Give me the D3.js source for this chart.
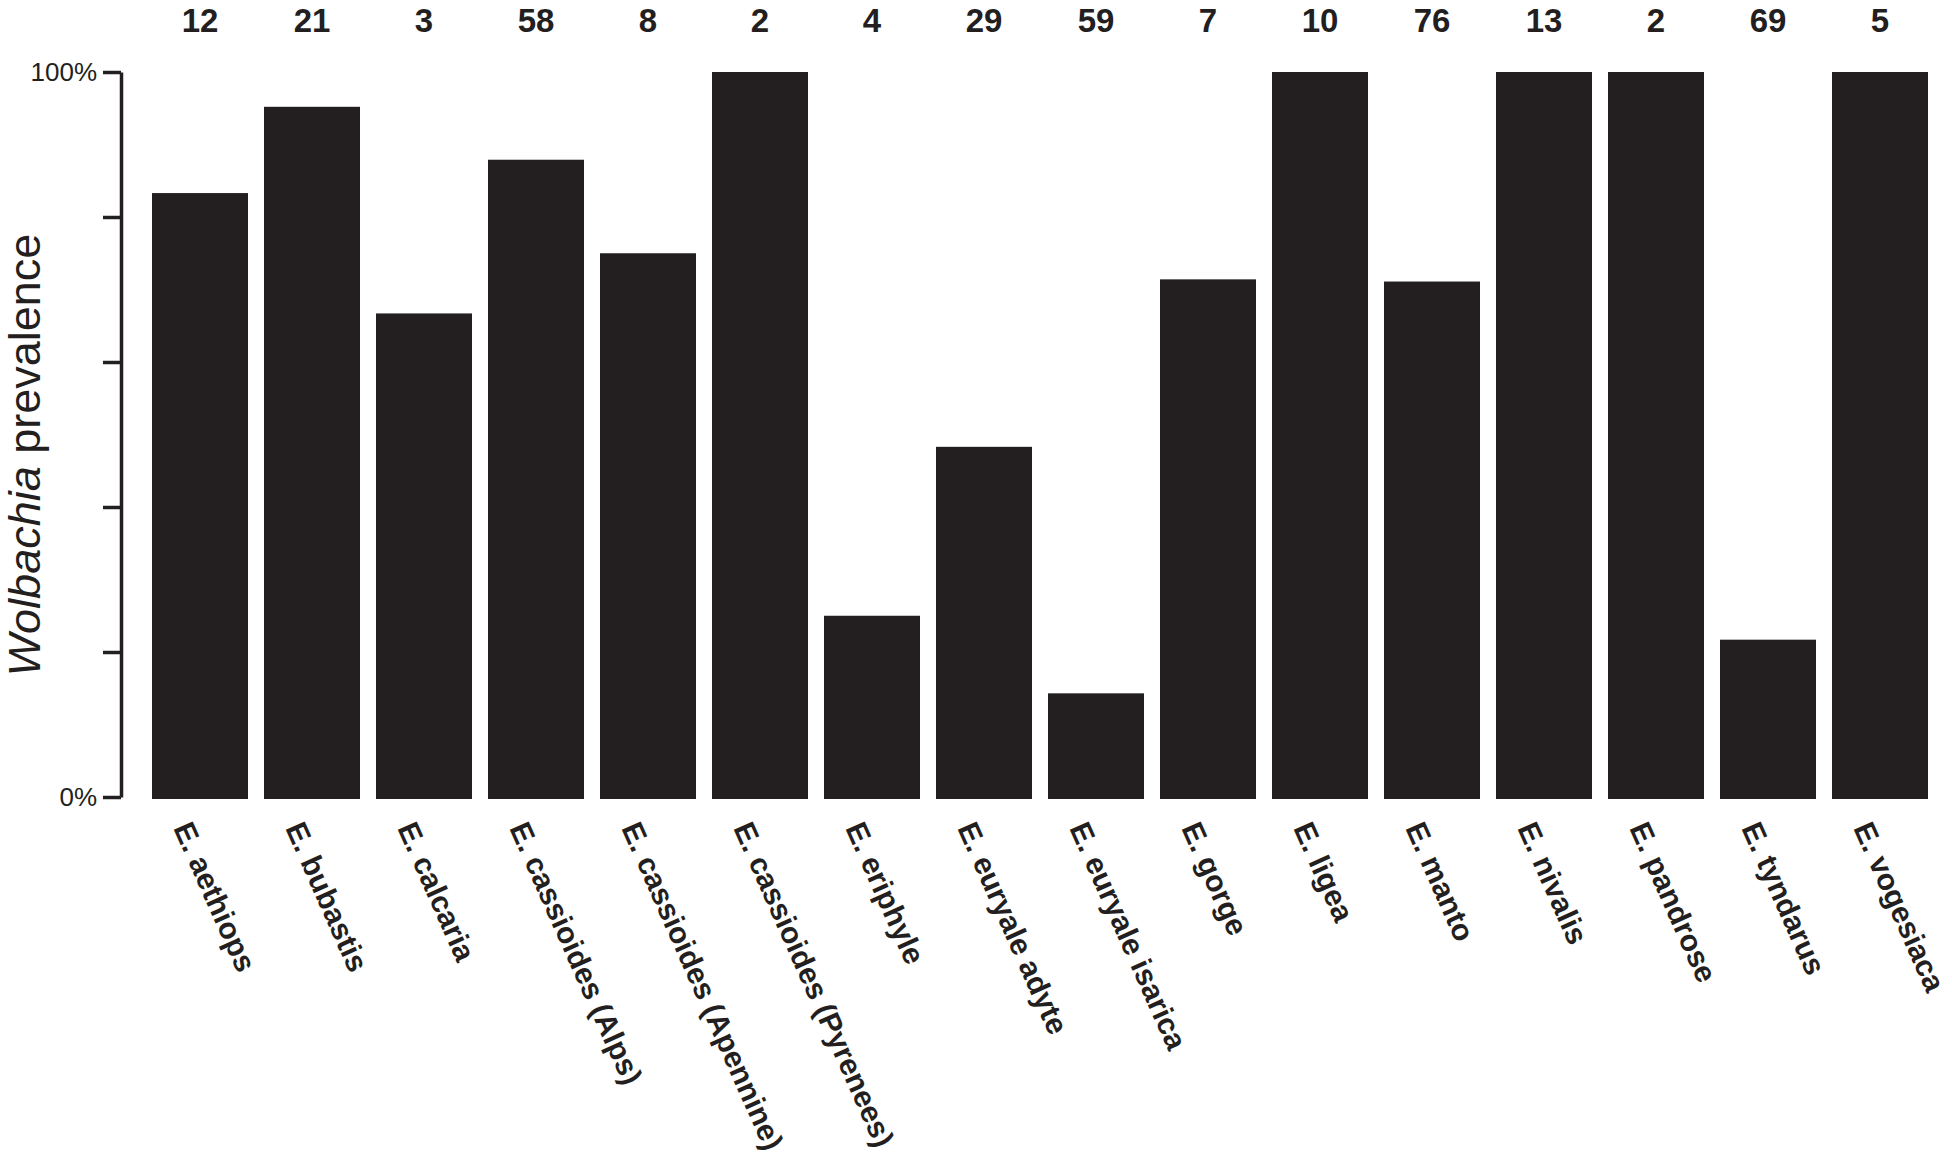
<!DOCTYPE html>
<html>
<head>
<meta charset="utf-8">
<script src="https://cdn.jsdelivr.net/npm/d3@7"></script>
<style>
  html, body { margin: 0; padding: 0; background: #fff; }
  svg { display: block; font-family: "Liberation Sans", Arial, sans-serif; }
</style>
</head>
<body>
<svg id="chart" width="1952" height="1168"></svg>
<script>
const categories = ["E. aethiops", "E. bubastis", "E. calcaria", "E. cassioides (Alps)",
  "E. cassioides (Apennine)", "E. cassioides (Pyrenees)", "E. eriphyle", "E. euryale adyte",
  "E. euryale isarica", "E. gorge", "E. ligea", "E. manto", "E. nivalis", "E. pandrose",
  "E. tyndarus", "E. vogesiaca"];
const sampleSizes = [12, 21, 3, 58, 8, 2, 4, 29, 59, 7, 10, 76, 13, 2, 69, 5];
const prevalence = [0.833, 0.952, 0.667, 0.879, 0.75, 1.0, 0.25, 0.483, 0.143, 0.714, 1.0, 0.711, 1.0, 1.0, 0.217, 1.0];
const tickValues = [0, 0.2, 0.4, 0.6, 0.8, 1.0];
const tickLabels = {0: "0%", 1: "100%"};

const ink = "#231f20";
const svg = d3.select("#chart");

const x = d3.scaleBand().domain(categories).range([144, 1936])
  .paddingInner(1/7).paddingOuter(1/14);
const y = d3.scaleLinear().domain([0, 1]).range([797, 72]);

// bars
svg.append("g").selectAll("rect").data(categories).join("rect")
  .attr("x", d => x(d))
  .attr("width", x.bandwidth())
  .attr("y", (d, i) => y(prevalence[i]))
  .attr("height", (d, i) => y(0) - y(prevalence[i]) + 2)
  .attr("fill", ink);

// y axis
const yAxis = d3.axisLeft(y).tickValues(tickValues).tickSize(18).tickSizeOuter(0)
  .tickPadding(6)
  .tickFormat(d => tickLabels[d] !== undefined ? tickLabels[d] : "");
const gy = svg.append("g").attr("transform", "translate(121,0)").call(yAxis);
gy.select(".domain").attr("stroke", ink).attr("stroke-width", 3.5);
gy.selectAll(".tick line").attr("stroke", ink).attr("stroke-width", 3.5);
gy.selectAll(".tick text").attr("fill", ink).attr("font-size", 26)
  .attr("font-family", "'Liberation Sans', Arial, sans-serif");

// y title
const yt = svg.append("text")
  .attr("transform", "translate(40,455) rotate(-90)")
  .attr("text-anchor", "middle")
  .attr("font-size", 45)
  .attr("fill", ink);
yt.append("tspan").attr("font-style", "italic").text("Wolbachia");
yt.append("tspan").text(" prevalence");

// sample sizes on top
svg.append("g").selectAll("text").data(categories).join("text")
  .attr("x", d => x(d) + x.bandwidth() / 2)
  .attr("y", 32)
  .attr("text-anchor", "middle")
  .attr("font-size", 33)
  .attr("font-weight", "bold")
  .attr("fill", ink)
  .text((d, i) => sampleSizes[i]);

// category labels
svg.append("g").selectAll("text").data(categories).join("text")
  .attr("transform", d => `translate(${x(d) + x.bandwidth() / 2 - 27},828) rotate(66)`)
  .attr("text-anchor", "start")
  .attr("font-size", 30)
  .attr("font-weight", "bold")
  .attr("fill", ink)
  .text(d => d);
</script>
</body>
</html>
